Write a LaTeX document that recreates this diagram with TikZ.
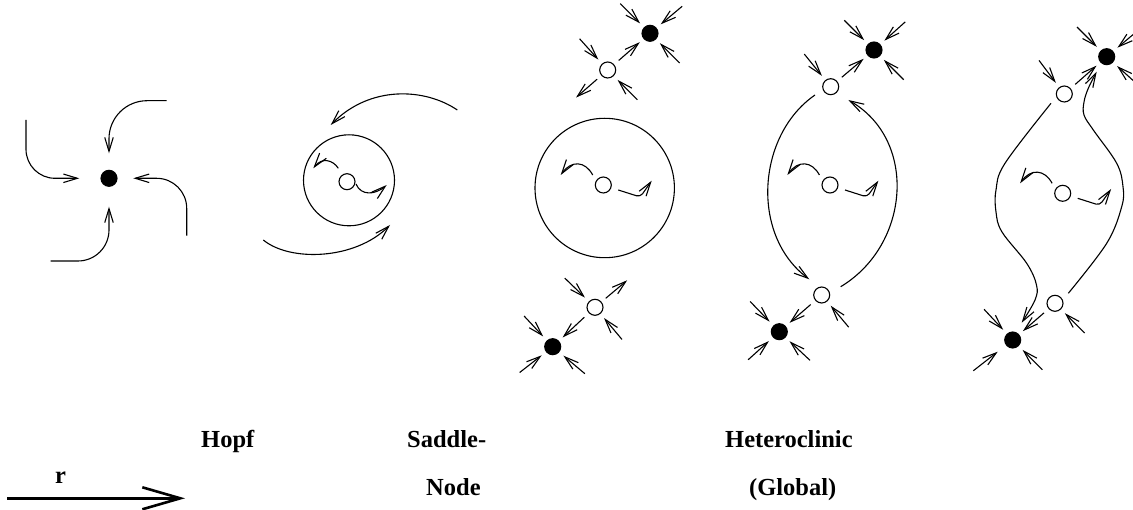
\documentclass[tikz,border=0pt]{standalone}
\usepackage{fontspec}
\setmainfont{Liberation Serif}
\usetikzlibrary{arrows.meta,calc}
\tikzset{
  flow/.style={line width=1.1pt, -{Straight Barb[length=14pt,width=8.5pt]}},
  sink/.style={circle, fill=black, draw=black, line width=1.1pt, minimum size=16pt, inner sep=0pt},
  source/.style={circle, fill=white, draw=black, line width=1.1pt, minimum size=16pt, inner sep=0pt},
  cycle/.style={circle, draw=black, line width=1.1pt, inner sep=0pt},
  caption/.style={font=\bfseries\fontsize{24.5}{28}\selectfont, anchor=base west, inner sep=0pt},
  bigarrow/.style={line width=2.6pt, -{Straight Barb[length=38pt,width=22pt]}}
}
% incoming / outgoing short trajectories at a fixed point
\newcommand\inflow[2]{\draw[flow] ($(#1)+(#2:42)$) -- ($(#1)+(#2:14)$);}
\newcommand\outflow[2]{\draw[flow] ($(#1)+(#2:14)$) -- ($(#1)+(#2:42)$);}
% small spiralling arrows around an unstable focus
\newcommand\spiral[1]{%
  \draw[flow] ($(#1)+(-10.6,-10)$) .. controls ($(#1)+(-18,-24)$) and ($(#1)+(-32,-25)$) .. ($(#1)+(-42.6,-10)$);
  \draw[flow, rounded corners=4pt] ($(#1)+(15,5)$) -- ($(#1)+(37,12)$) -- ($(#1)+(48.4,-4.3)$);}
\begin{document}
\begin{tikzpicture}[x=1pt,y=-1pt]
\useasboundingbox (0,0) rectangle (1133,510);
\clip (0,0) rectangle (1133,510);

% ---- stable focus ----
\node[sink] (h0) at (109,178.3) {};
\coordinate (a1) at (26,120);   \coordinate (b1) at (79.3,178.3);
\coordinate (a2) at (166.7,100.7); \coordinate (b2) at (109,153.3);
\coordinate (a3) at (186.7,235.7); \coordinate (b3) at (133.3,178.3);
\coordinate (a4) at (50.7,261); \coordinate (b4) at (109,206.7);
\draw[flow, rounded corners=29pt] (a1) |- (b1);
\draw[flow, rounded corners=38pt] (a2) -| (b2);
\draw[flow, rounded corners=30pt] (a3) |- (b3);
\draw[flow, rounded corners=31pt] (a4) -| (b4);

% ---- limit cycle around unstable focus ----
\node[cycle, minimum size=91pt] (lc2) at (349,180.3) {};
\node[source] (u2) at (347,181.7) {};
\draw[flow] ($(u2)+(-8.7,-13.4)$) .. controls ($(u2)+(-14,-21.7)$) and ($(u2)+(-25,-24.7)$) .. ($(u2)+(-33.7,-13.4)$);
\draw[flow] ($(u2)+(9,2.3)$) .. controls ($(u2)+(14,14.3)$) and ($(u2)+(28,13.3)$) .. ($(u2)+(39.7,3.3)$);
\coordinate (t0) at (457.3,110); \coordinate (t1) at (330.7,125);
\coordinate (d0) at (263.3,240); \coordinate (d1) at (390,225);
\draw[flow] (t0) .. controls (425,88) and (370,85) .. (t1);
\draw[flow] (d0) .. controls (290,262) and (355,260) .. (d1);

% ---- third panel ----
\node[cycle, minimum size=139.4pt] (lc3) at (604.7,188) {};
\node[source] (u3) at (603.3,185) {};
\spiral{u3}
\node[sink]   (f31) at (650,33.3) {};
\node[source] (s31) at (607.7,70) {};
\node[source] (s32) at (595,307.3) {};
\node[sink]   (f32) at (552.7,346.7) {};
\inflow{f31}{-135} \inflow{f31}{-40} \inflow{f31}{45}
\inflow{s31}{-132} \inflow{s31}{45} \outflow{s31}{139}
\draw[flow, shorten <=6pt, shorten >=5pt] (s31) -- (f31);
\inflow{s32}{-136} \inflow{s32}{50} \outflow{s32}{-40}
\draw[flow, shorten <=6pt, shorten >=5pt] (s32) -- (f32);
\inflow{f32}{-133} \inflow{f32}{142} \inflow{f32}{40}

% ---- fourth panel ----
\node[source] (u4) at (830,185) {};
\spiral{u4}
\node[sink]   (f41) at (874,50) {};
\node[source] (s41) at (830.7,86.7) {};
\node[source] (s42) at (821.7,295) {};
\node[sink]   (f42) at (779.3,331.7) {};
\inflow{f41}{-135} \inflow{f41}{-42} \inflow{f41}{45}
\inflow{s41}{-129}
\draw[flow, shorten <=6pt, shorten >=5pt] (s41) -- (f41);
\inflow{s42}{50}
\draw[flow, shorten <=6pt, shorten >=5pt] (s42) -- (f42);
\inflow{f42}{-134} \inflow{f42}{138} \inflow{f42}{43}
\draw[flow] ($(s41)+(-15.7,8.3)$) .. controls (757,135) and (750,235) .. ($(s42)+(-12.4,-15.7)$);
\draw[flow] ($(s42)+(19,-8.3)$) .. controls (910,245) and (918,140) .. ($(s41)+(17.6,13.3)$);

% ---- fifth panel ----
\node[source] (u5) at (1062.7,193.3) {};
\spiral{u5}
\node[sink]   (f51) at (1106.7,56.7) {};
\node[source] (s51) at (1064.3,94) {};
\node[source] (s52) at (1055,303.3) {};
\node[sink]   (f52) at (1012.7,340) {};
\inflow{f51}{-135} \inflow{f51}{-40} \inflow{f51}{42}
\inflow{s51}{-127}
\draw[flow, shorten <=6pt, shorten >=5pt] (s51) -- (f51);
\inflow{s52}{45}
\draw[flow, shorten <=6pt, shorten >=5pt] (s52) -- (f52);
\inflow{f52}{-133} \inflow{f52}{45}
\draw[flow] ($(f52)+(142:50)$) -- ($(f52)+(142:19)$);
\draw[flow] plot[smooth, tension=0.6] coordinates {($(s51)+(-13.3,9.3)$) (1005,163.3) (996,190) (996,212) (1002,232) (1026.7,263.3) (1036.5,285) (1035,300) ($(f52)+(9,-17.3)$)};
\draw[flow] plot[smooth, tension=0.6] coordinates {($(s52)+(13.3,-10)$) (1106.7,243.3) (1121.7,206.7) (1123,186.7) (1116.7,163.3) (1093.3,130) (1084,115) (1084,102) (1088.3,88.3) ($(f51)+(-10,15)$)};

% ---- captions ----
\node[caption] (c1) at (201,448) {Hopf};
\node[caption] (c2) at (407,448) {Saddle-};
\node[caption] (c3) at (426,496) {Node};
\node[caption] (c4) at (725,448) {Heteroclinic};
\node[caption] (c5) at (749,496) {(Global)};
\node[caption] (c6) at (55,483) {r};
\coordinate (r0) at (7,498.3);
\coordinate (r1) at (185,498.3);
\draw[bigarrow] (r0) -- (r1);
\end{tikzpicture}
\end{document}
